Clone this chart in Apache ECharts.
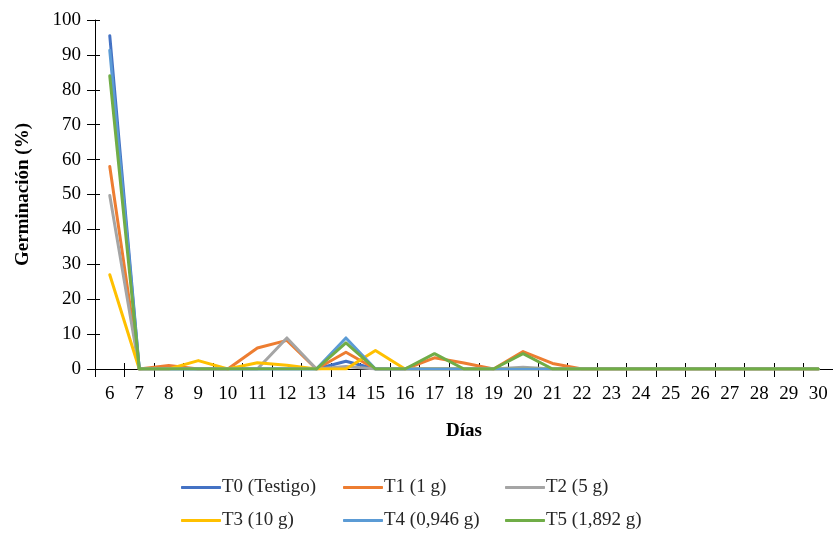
<!DOCTYPE html>
<html>
<head>
<meta charset="utf-8">
<script src="https://cdn.jsdelivr.net/npm/echarts@6/dist/echarts.min.js"></script>
<style>
  html, body { margin: 0; padding: 0; background: #ffffff; }
  #chart { width: 833px; height: 535px; }
</style>
</head>
<body>
<div id="chart"></div>
<script>
// Días de evaluación
const dias = ['6','7','8','9','10','11','12','13','14','15','16','17','18','19','20','21','22','23','24','25','26','27','28','29','30'];

// Germinación diaria (%) por tratamiento
const t0 = [95.5, 0, 0, 0, 0, 0, 0, 0, 2.2, 0, 0, 0, 0, 0, 0, 0, 0, 0, 0, 0, 0, 0, 0, 0, 0];
const t1 = [58, 0, 1, 0, 0, 6, 8.2, 0, 4.8, 0, 0, 3.2, 1.7, 0, 5, 1.6, 0, 0, 0, 0, 0, 0, 0, 0, 0];
const t2 = [49.7, 0, 0, 0, 0, 0, 8.9, 0, 0.7, 0, 0, 0, 0, 0, 0.5, 0, 0, 0, 0, 0, 0, 0, 0, 0, 0];
const t3 = [27, 0, 0, 2.4, 0, 1.8, 1.1, 0, 0, 5.3, 0, 0, 0, 0, 0, 0, 0, 0, 0, 0, 0, 0, 0, 0, 0];
const t4 = [91.3, 0, 0, 0, 0, 0, 0, 0, 8.9, 0, 0, 0, 0, 0, 0, 0, 0, 0, 0, 0, 0, 0, 0, 0, 0];
const t5 = [84, 0, 0, 0, 0, 0, 0, 0, 7.5, 0, 0, 4.4, 0, 0, 4.4, 0, 0, 0, 0, 0, 0, 0, 0, 0, 0];

const nombres = ['T0 (Testigo)', 'T1 (1 g)', 'T2 (5 g)', 'T3 (10 g)', 'T4 (0,946 g)', 'T5 (1,892 g)'];
const valores = [t0, t1, t2, t3, t4, t5];
const colores = ['#4472C4', '#ED7D31', '#A5A5A5', '#FFC000', '#5B9BD5', '#70AD47'];

// Ticks del eje Y
const yMin = 0, yMax = 100, yPaso = 10;

const fuente = "'Liberation Serif', 'Times New Roman', 'DejaVu Serif', serif";

const series = nombres.map((n, i) => ({
  name: n,
  type: 'line',
  xAxisIndex: 0,
  yAxisIndex: 0,
  data: valores[i],
  symbol: 'none',
  smooth: false,
  lineStyle: { width: 3, color: colores[i], cap: 'round', join: 'round' },
  itemStyle: { color: colores[i] },
  emphasis: { disabled: true },
  animation: false
}));

// Serie vacía que mantiene activa la rejilla gemela de marcas interiores
series.push({
  name: '__marcas',
  type: 'line',
  xAxisIndex: 1,
  yAxisIndex: 1,
  data: [],
  symbol: 'none',
  silent: true,
  animation: false
});

// Leyenda en dos filas de tres columnas
const colX = [176, 338, 500];
const filaY = [473, 506];
const leyendas = nombres.map((n, i) => ({
  data: [n],
  left: colX[i % 3],
  top: filaY[Math.floor(i / 3)],
  icon: 'roundRect',
  itemWidth: 40,
  itemHeight: 3,
  itemGap: 0,
  textStyle: { fontFamily: fuente, fontSize: 19, color: '#262626', padding: [0, 0, 0, -4] },
  selectedMode: false
}));

// Rejilla principal y una rejilla gemela solo para las marcas interiores
const rejilla = { left: 95, top: 20, width: 740, height: 349, containLabel: false };

const opciones = {
  backgroundColor: '#ffffff',
  animation: false,
  grid: [rejilla, Object.assign({}, rejilla)],
  legend: leyendas,
  xAxis: [
    {
      type: 'category',
      gridIndex: 0,
      data: dias,
      position: 'bottom',
      boundaryGap: true,
      name: 'Días',
      nameLocation: 'middle',
      nameGap: 53,
      nameTextStyle: { fontFamily: fuente, fontSize: 19, fontWeight: 'bold', color: '#000' },
      axisLine: { lineStyle: { color: '#000', width: 1 } },
      axisTick: { show: true, inside: false, length: 8, lineStyle: { color: '#000' } },
      axisLabel: { fontFamily: fuente, fontSize: 19, color: '#000', margin: 16, interval: 0 },
      splitLine: { show: false }
    },
    {
      type: 'category',
      gridIndex: 1,
      data: dias,
      position: 'bottom',
      boundaryGap: true,
      axisLine: { show: false },
      axisTick: { show: true, inside: true, length: 6, lineStyle: { color: '#000' } },
      axisLabel: { show: false },
      splitLine: { show: false }
    }
  ],
  yAxis: [
    {
      type: 'value',
      gridIndex: 0,
      min: yMin,
      max: yMax,
      interval: yPaso,
      name: 'Germinación (%)',
      nameLocation: 'middle',
      nameGap: 62,
      nameRotate: 90,
      nameTextStyle: { fontFamily: fuente, fontSize: 19, fontWeight: 'bold', color: '#000' },
      axisLine: { show: true, lineStyle: { color: '#000', width: 1 } },
      axisTick: { show: true, inside: false, length: 8, lineStyle: { color: '#000' } },
      axisLabel: { fontFamily: fuente, fontSize: 19, color: '#000', margin: 14 },
      splitLine: { show: false }
    },
    {
      type: 'value',
      gridIndex: 1,
      min: yMin,
      max: yMax,
      interval: yPaso,
      position: 'left',
      axisLine: { show: false },
      axisTick: { show: true, inside: true, length: 5, lineStyle: { color: '#000' } },
      axisLabel: { show: false },
      splitLine: { show: false }
    }
  ],
  series: series
};

const grafico = echarts.init(document.getElementById('chart'), null, { renderer: 'canvas' });
grafico.setOption(opciones);
</script>
</body>
</html>
